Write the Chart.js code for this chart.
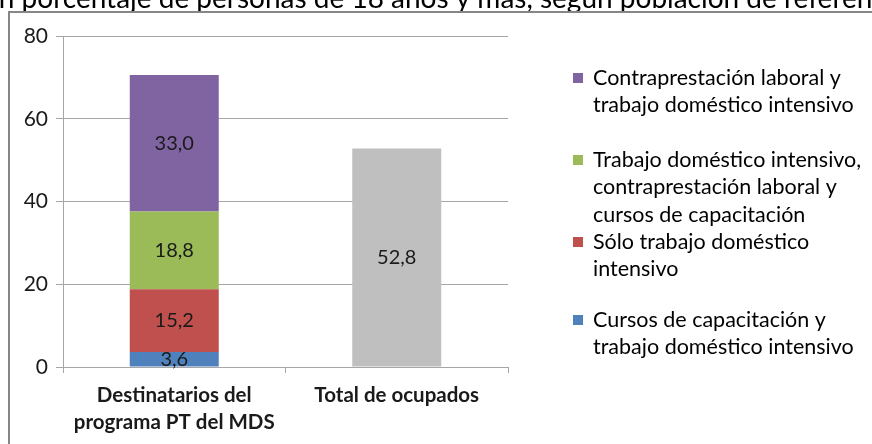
<!DOCTYPE html>
<html>
<head>
<meta charset="utf-8">
<script src="https://cdn.jsdelivr.net/npm/chart.js@4"></script>
<style>
  html, body { margin: 0; padding: 0; background: #fff; }
  #wrap { width: 872px; height: 444px; position: relative; }
</style>
</head>
<body>
<div id="wrap"><canvas id="chart"></canvas></div>
<script>
const title = 'En porcentaje de personas de 18 años y más, según población de referencia';
const categories = [['Destinatarios del', 'programa PT del MDS'], 'Total de ocupados'];

const seriesLabels = [
    ['Cursos de capacitación y', 'trabajo doméstico intensivo'],
    ['Sólo trabajo doméstico', 'intensivo'],
    ['Trabajo doméstico intensivo,', 'contraprestación laboral y', 'cursos de capacitación'],
    ['Contraprestación laboral y', 'trabajo doméstico intensivo']
];
const cursos = [3.6, null];
const soloDomestico = [15.2, null];
const trabajoContra = [18.8, null];
const contraprestacion = [33.0, null];
const totalOcupados = [null, 52.8];

const yTicks = [0, 20, 40, 60, 80];
const colors = ['#4F81BD', '#C0504D', '#9BBB59', '#8064A2', '#BFBFBF'];

const FONT = 'Lato, "Open Sans", sans-serif';

// frame + cut-off title at the top
const framePlugin = {
    id: 'frame',
    beforeDraw(chart) {
        const ctx = chart.ctx;
        ctx.save();
        ctx.fillStyle = '#000';
        ctx.font = '28px ' + FONT;
        ctx.textBaseline = 'alphabetic';
        ctx.fillText(title, -17, 8);
        ctx.strokeStyle = '#868686';
        ctx.lineWidth = 2;
        ctx.strokeRect(9, 12, 900, 500);
        ctx.restore();
    }
};

// value labels in the middle of each bar segment
const valuePlugin = {
    id: 'values',
    afterDatasetsDraw(chart) {
        const ctx = chart.ctx;
        ctx.save();
        ctx.font = '20px ' + FONT;
        ctx.fillStyle = '#1a1a1a';
        ctx.textAlign = 'center';
        ctx.textBaseline = 'middle';
        chart.data.datasets.forEach((ds, i) => {
            chart.getDatasetMeta(i).data.forEach((bar, j) => {
                const v = ds.data[j];
                if (v == null) return;
                const p = bar.getProps(['x', 'y', 'base'], true);
                ctx.fillText(v.toFixed(1).replace('.', ','), p.x, (p.y + p.base) / 2);
            });
        });
        ctx.restore();
    }
};

// legend on the right, reversed, multi-line labels
const legendPlugin = {
    id: 'sideLegend',
    afterDraw(chart) {
        const ctx = chart.ctx;
        ctx.save();
        ctx.font = '21.5px ' + FONT;
        ctx.textBaseline = 'middle';
        const x = 573, lineH = 27.5;
        const starts = [78, 160, 242, 320];
        for (let k = 0; k < 4; k++) {
            const i = 3 - k;
            const ds = chart.data.datasets[i];
            ctx.fillStyle = ds.backgroundColor;
            ctx.fillRect(x, starts[k] - 5, 10, 10);
            ctx.fillStyle = '#000';
            ds.label.forEach((line, n) => {
                ctx.fillText(line, x + 20, starts[k] + n * lineH);
            });
        }
        ctx.restore();
    }
};

const series = [cursos, soloDomestico, trabajoContra, contraprestacion, totalOcupados];
const datasets = series.map((data, i) => ({
    label: i < 4 ? seriesLabels[i] : ['Total de ocupados'],
    data: data,
    backgroundColor: colors[i],
    borderWidth: 0,
    categoryPercentage: 1,
    barPercentage: 0.4
}));

new Chart(document.getElementById('chart'), {
    type: 'bar',
    data: { labels: categories, datasets: datasets },
    options: {
        responsive: true,
        maintainAspectRatio: false,
        animation: false,
        layout: { padding: { left: 0, right: 364, top: 36, bottom: 0 } },
        plugins: {
            legend: { display: false },
            tooltip: { enabled: false }
        },
        scales: {
            x: {
                stacked: true,
                offset: true,
                afterFit: s => { s.height = 77; },
                grid: {
                    offset: true,
                    drawOnChartArea: false,
                    drawTicks: true,
                    tickLength: 6,
                    color: '#a6a6a6'
                },
                border: { color: '#a6a6a6', width: 1 },
                ticks: {
                    color: '#1a1a1a',
                    font: { family: FONT, size: 20.5, weight: 'bold', lineHeight: 1.3 },
                    padding: 9,
                    maxRotation: 0
                }
            },
            y: {
                stacked: true,
                min: 0,
                max: 80,
                afterFit: s => { s.width = 63; },
                afterBuildTicks: s => { s.ticks = yTicks.map(v => ({ value: v })); },
                grid: {
                    color: '#a6a6a6',
                    drawTicks: true,
                    tickLength: 7
                },
                border: { color: '#a6a6a6', width: 1 },
                ticks: {
                    color: '#1a1a1a',
                    font: { family: FONT, size: 21 },
                    padding: 8
                }
            }
        }
    },
    plugins: [framePlugin, valuePlugin, legendPlugin]
});
</script>
</body>
</html>
